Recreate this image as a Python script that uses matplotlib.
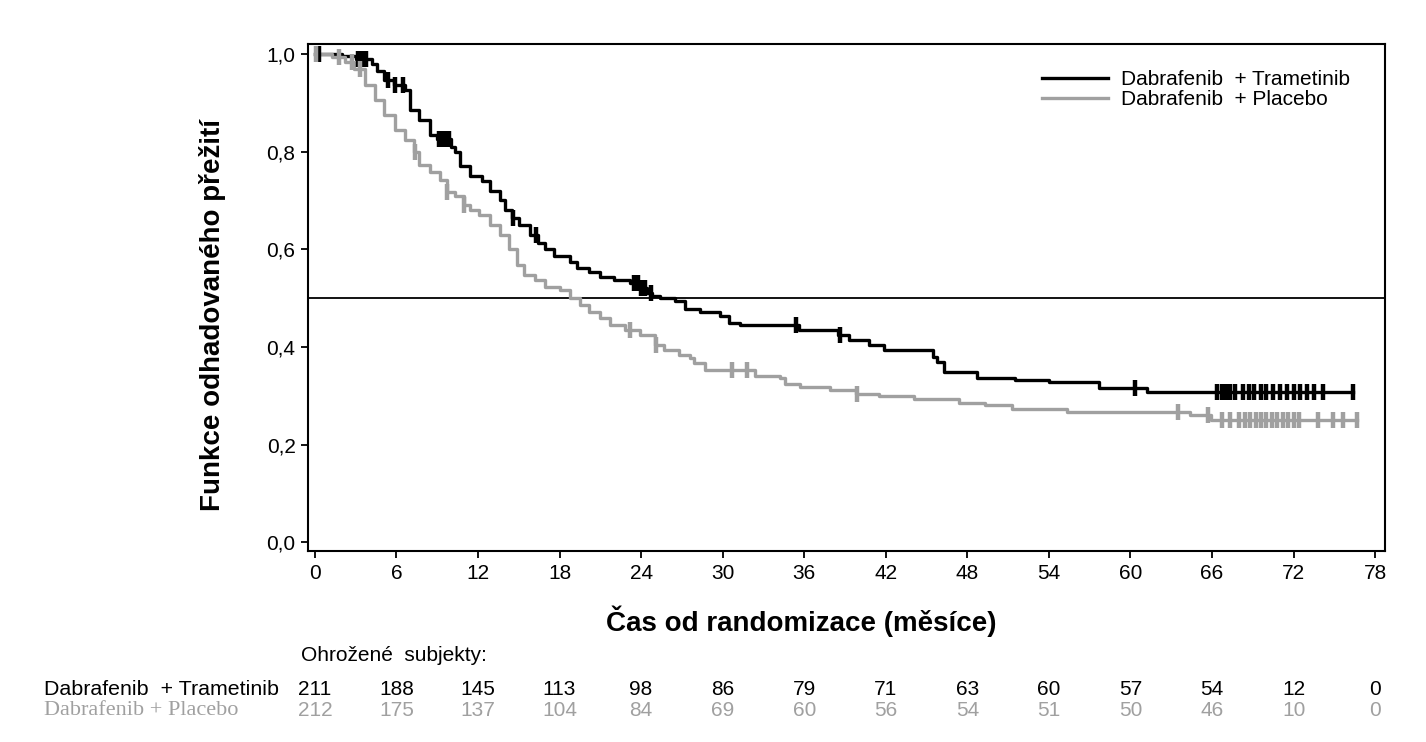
import matplotlib.pyplot as plt
import numpy as np
from matplotlib.transforms import blended_transform_factory

plt.rcParams['font.family'] = ['Liberation Sans', 'DejaVu Sans']

GREY = '#a0a0a0'

# Kaplan-Meier steps (time in months, survival after the drop)
dt_times = [0, 2.0, 3.0, 4.2, 4.6, 5.1, 5.8, 6.6, 7.0, 7.7, 8.5, 9.0, 10.0, 10.3, 10.7,
            11.4, 12.3, 12.9, 13.6, 14.0, 14.5, 15.0, 15.8, 16.4, 16.9, 17.6, 18.8, 19.3,
            20.2, 21.0, 22.0, 23.2, 24.0, 24.4, 24.8, 25.4, 26.5, 27.2, 28.3, 29.8, 30.5,
            31.3, 35.6, 38.5, 39.3, 40.8, 41.9, 45.5, 45.8, 46.3, 48.7, 51.5, 54.0, 57.7,
            61.2]
dt_surv = [1.0, 0.995, 0.99, 0.98, 0.965, 0.947, 0.937, 0.926, 0.885, 0.865, 0.834, 0.825,
           0.81, 0.80, 0.77, 0.75, 0.74, 0.72, 0.70, 0.68, 0.665, 0.65, 0.63, 0.612, 0.60,
           0.586, 0.574, 0.561, 0.553, 0.543, 0.537, 0.53, 0.52, 0.51, 0.504, 0.50, 0.494,
           0.477, 0.471, 0.463, 0.45, 0.445, 0.434, 0.424, 0.414, 0.404, 0.393, 0.38, 0.369,
           0.348, 0.337, 0.333, 0.328, 0.315, 0.307]
dt_end = 76.4
dt_cens = [0.3, 3.2, 3.4, 3.6, 3.8, 5.4, 5.9, 6.5, 9.1, 9.3, 9.5, 9.7, 9.9, 14.6, 16.3,
           23.5, 23.8, 24.0, 24.3, 24.7, 35.4, 38.6, 60.3, 66.4, 66.7, 67.0, 67.3, 67.7,
           68.3, 68.7, 69.1, 69.6, 70.0, 70.5, 71.0, 71.5, 72.0, 72.5, 73.0, 73.5, 74.2,
           76.4]

dp_times = [0, 1.3, 2.2, 2.9, 3.7, 4.4, 5.1, 5.9, 6.6, 7.3, 7.7, 8.5, 9.2, 9.7, 10.3,
            11.0, 11.4, 12.1, 12.9, 13.6, 14.3, 14.9, 15.4, 16.2, 16.9, 18.0, 18.75, 19.5,
            20.2, 21.0, 21.7, 22.8, 23.9, 25.0, 25.7, 26.8, 27.6, 27.9, 28.7, 32.4, 34.2,
            34.6, 35.7, 37.9, 39.8, 41.5, 44.1, 47.4, 49.3, 51.3, 55.3, 64.4, 65.9]
dp_surv = [1.0, 0.994, 0.984, 0.97, 0.936, 0.906, 0.875, 0.844, 0.824, 0.80, 0.773, 0.758,
           0.742, 0.717, 0.709, 0.69, 0.68, 0.67, 0.65, 0.63, 0.60, 0.568, 0.547, 0.537,
           0.523, 0.516, 0.50, 0.486, 0.471, 0.459, 0.445, 0.434, 0.424, 0.404, 0.393,
           0.383, 0.377, 0.367, 0.352, 0.34, 0.336, 0.324, 0.318, 0.311, 0.303, 0.30,
           0.293, 0.285, 0.281, 0.2725, 0.267, 0.26, 0.25]
dp_end = 76.7
dp_cens = [0.1, 1.8, 2.7, 3.3, 7.35, 9.7, 11.0, 23.2, 25.1, 30.7, 31.8, 39.9, 63.5, 65.7,
           66.7, 67.3, 68.0, 68.4, 68.8, 69.2, 69.6, 70.0, 70.4, 70.8, 71.2, 71.6, 72.0,
           72.4, 73.8, 74.9, 75.6, 76.7]

months = list(range(0, 79, 6))
risk_dt = [211, 188, 145, 113, 98, 86, 79, 71, 63, 60, 57, 54, 12, 0]
risk_dp = [212, 175, 137, 104, 84, 69, 60, 56, 54, 51, 50, 46, 10, 0]


def km_line(ax, times, surv, end, cens, color, label):
    t = np.append(times, end)
    s = np.append(surv, surv[-1])
    ax.step(t, s, where='post', color=color, lw=2.4, label=label, zorder=3)
    idx = np.searchsorted(times, cens, side='right') - 1
    ax.plot(cens, np.array(surv)[idx], ls='none', marker='|', ms=11, mew=3.2,
            color=color, zorder=4)


fig = plt.figure(figsize=(14.26, 7.42), dpi=100)
ax = fig.add_axes([0.216, 0.2574, 0.755, 0.6833])

km_line(ax, dt_times, dt_surv, dt_end, dt_cens, 'black', 'Dabrafenib  + Trametinib')
km_line(ax, dp_times, dp_surv, dp_end, dp_cens, GREY, 'Dabrafenib  + Placebo')
ax.axhline(0.5, color='black', lw=1.3, zorder=2)

ax.set_xlim(-0.5, 78.7)
ax.set_ylim(-0.018, 1.0205)
ax.set_xticks(months)
ax.set_yticks(np.arange(0, 1.01, 0.2))
ax.set_yticklabels([f'{v:.1f}'.replace('.', ',') for v in np.arange(0, 1.01, 0.2)])
ax.tick_params(direction='out', length=5, width=1.3, labelsize=15, pad=4)
for sp in ax.spines.values():
    sp.set_linewidth(1.5)

ax.set_xlabel('Čas od randomizace (měsíce)', fontsize=20, fontweight='bold')
ax.set_ylabel('Funkce odhadovaného přežití', fontsize=20, fontweight='bold')
ax.xaxis.set_label_coords(0.458, -0.108)
ax.yaxis.set_label_coords(-0.076, 0.465)

ax.legend(loc='upper right', frameon=False, fontsize=15, handlelength=3.2,
          handletextpad=0.6, labelspacing=0.05, bbox_to_anchor=(0.985, 0.985))

# number at risk table
tr = blended_transform_factory(ax.transData, fig.transFigure)
fig.text(0.211, 0.117, 'Ohrožené  subjekty:', fontsize=15, va='center')
fig.text(0.031, 0.0714, 'Dabrafenib  + Trametinib', fontsize=15.4, va='center')
fig.text(0.031, 0.0431, 'Dabrafenib + Placebo', fontsize=16, va='center', color=GREY,
         family=['Liberation Serif', 'DejaVu Serif'])
for m, a, b in zip(months, risk_dt, risk_dp):
    ax.text(m, 0.0714, str(a), transform=tr, ha='center', va='center', fontsize=15)
    ax.text(m, 0.0431, str(b), transform=tr, ha='center', va='center', fontsize=15,
            color=GREY)

fig.savefig('out.png', dpi=100)
